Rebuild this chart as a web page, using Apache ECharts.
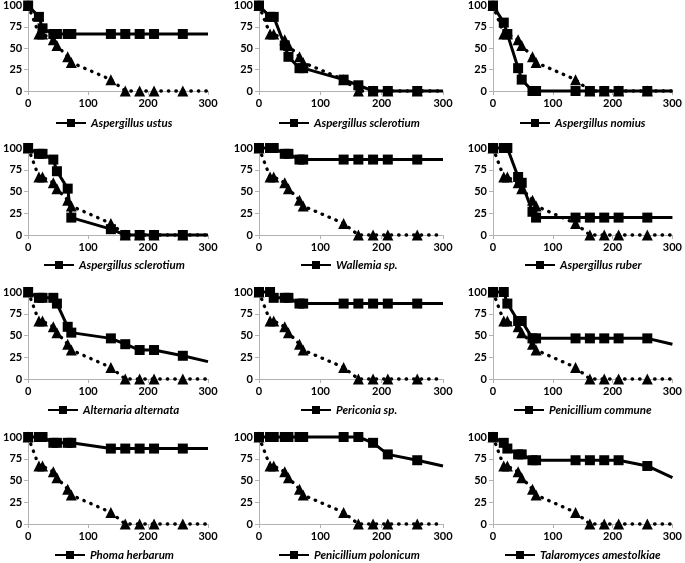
<!DOCTYPE html>
<html>
<head>
<meta charset="utf-8">
<script src="https://cdn.jsdelivr.net/npm/echarts@6/dist/echarts.min.js"></script>
<style>
html,body{margin:0;padding:0;background:#fff;overflow:hidden}
#chart{width:685px;height:563px}
</style>
</head>
<body>
<div id="chart"></div>
<script>
// Time points (x axis)
const xHours = [0, 18, 24, 42, 48, 66, 72, 138, 162, 186, 210, 258, 300];
// Reference (dotted, triangles) – same in every panel
const controlValues = [100, 66.7, 66.7, 60, 53.3, 40, 33.3, 13.3, 0, 0, 0, 0, 0];

const fungusNames = [
  'Aspergillus ustus', 'Aspergillus sclerotium', 'Aspergillus nomius',
  'Aspergillus sclerotium', 'Wallemia sp.', 'Aspergillus ruber',
  'Alternaria alternata', 'Periconia sp.', 'Penicillium commune',
  'Phoma herbarum', 'Penicillium polonicum', 'Talaromyces amestolkiae'
];

const aspergillusUstus      = [100, 86.7, 73.3, 66.7, 66.7, 66.7, 66.7, 66.7, 66.7, 66.7, 66.7, 66.7, 66.7];
const aspergillusSclerotium1 = [100, 86.7, 86.7, 53.3, 40, 26.7, 26.7, 13.3, 6.7, 0, 0, 0, 0];
const aspergillusNomius     = [100, 80, 66.7, 26.7, 13.3, 0, 0, 0, 0, 0, 0, 0, 0];
const aspergillusSclerotium2 = [100, 93.3, 93.3, 86.7, 73.3, 53.3, 20, 6.7, 0, 0, 0, 0, 0];
const wallemiaSp            = [100, 100, 100, 93.3, 93.3, 86.7, 86.7, 86.7, 86.7, 86.7, 86.7, 86.7, 86.7];
const aspergillusRuber      = [100, 100, 100, 66.7, 60, 26.7, 20, 20, 20, 20, 20, 20, 20];
const alternariaAlternata   = [100, 93.3, 93.3, 93.3, 86.7, 60, 53.3, 46.7, 40, 33.3, 33.3, 26.7, 20];
const periconiaSp           = [100, 100, 93.3, 93.3, 93.3, 86.7, 86.7, 86.7, 86.7, 86.7, 86.7, 86.7, 86.7];
const penicilliumCommune    = [100, 100, 86.7, 66.7, 66.7, 46.7, 46.7, 46.7, 46.7, 46.7, 46.7, 46.7, 40];
const phomaHerbarum         = [100, 100, 100, 93.3, 93.3, 93.3, 93.3, 86.7, 86.7, 86.7, 86.7, 86.7, 86.7];
const penicilliumPolonicum  = [100, 100, 100, 100, 100, 100, 100, 100, 100, 93.3, 80, 73.3, 66.7];
const talaromycesAmestolkiae = [100, 93.3, 86.7, 80, 80, 73.3, 73.3, 73.3, 73.3, 73.3, 73.3, 66.7, 53.3];

const fungusValues = [
  aspergillusUstus, aspergillusSclerotium1, aspergillusNomius,
  aspergillusSclerotium2, wallemiaSp, aspergillusRuber,
  alternariaAlternata, periconiaSp, penicilliumCommune,
  phomaHerbarum, penicilliumPolonicum, talaromycesAmestolkiae
];

const yTicks = [0, 25, 50, 75, 100];
const xTicks = [0, 100, 200, 300];

// layout
const colLeft = [24, 259, 493];
const rowTop = [4, 148, 292, 437];
const plotW = 184, plotH = 87;
const legendCenterY = [124, 266, 411, 556];

const FONT = 'Lato, "Open Sans", sans-serif';
const legendFont = 'italic bold 11.5px Lato';
const cv = document.createElement('canvas').getContext('2d');
cv.font = legendFont;

function toData(vals) {
  return xHours.map((x, i) => {
    const d = { value: [x, vals[i]] };
    if (i === xHours.length - 1) d.symbol = 'none';
    return d;
  });
}

const grids = [], xAxes = [], yAxes = [], series = [], legends = [];
const itemW = 30;
fungusNames.forEach((name, k) => {
  const r = Math.floor(k / 3), c = k % 3;
  grids.push({ left: colLeft[c], top: rowTop[r], width: plotW, height: plotH });
  xAxes.push({
    gridIndex: k, type: 'value', min: xTicks[0], max: xTicks[xTicks.length - 1], interval: 100,
    axisLine: { show: true, lineStyle: { color: '#b3b3b3', width: 1 } },
    axisTick: { show: true, length: 4, lineStyle: { color: '#b3b3b3' } },
    splitLine: { show: false },
    axisLabel: { color: '#000', fontWeight: 'bold', fontSize: 11, fontFamily: FONT, margin: 7 }
  });
  yAxes.push({
    gridIndex: k, type: 'value', min: yTicks[0], max: yTicks[yTicks.length - 1], interval: 25,
    axisLine: { show: true, lineStyle: { color: '#b3b3b3', width: 1 } },
    axisTick: { show: true, length: 4, lineStyle: { color: '#b3b3b3' } },
    splitLine: { show: false },
    axisLabel: { color: '#000', fontWeight: 'bold', fontSize: 11, fontFamily: FONT, margin: 6 }
  });
  series.push({
    name: 'Control', type: 'line', xAxisIndex: k, yAxisIndex: k,
    data: toData(controlValues), symbol: 'triangle', symbolSize: 11, clip: false,
    itemStyle: { color: '#000' },
    lineStyle: { color: '#000', width: 3.3, type: [0.5, 7], cap: 'round' },
    animation: false, z: 2
  });
  series.push({
    name: name, type: 'line', xAxisIndex: k, yAxisIndex: k,
    data: toData(fungusValues[k]), symbol: 'rect', symbolSize: 10, clip: false,
    itemStyle: { color: '#000' },
    lineStyle: { color: '#000', width: 3 },
    animation: false, z: 3
  });
  const tw = cv.measureText(name).width;
  const center = colLeft[c] + plotW / 2 - 3;
  legends.push({
    data: [name],
    left: Math.round(center - (itemW + 5 + tw) / 2),
    top: legendCenterY[r] - 7,
    padding: 0,
    itemWidth: itemW, itemHeight: 10,
    selectedMode: false,
    textStyle: { fontFamily: 'Lato', fontStyle: 'italic', fontWeight: 'bold', fontSize: 11.5, color: '#000' }
  });
});

const chart = echarts.init(document.getElementById('chart'), null, { renderer: 'canvas' });
chart.setOption({
  backgroundColor: '#fff',
  animation: false,
  grid: grids, xAxis: xAxes, yAxis: yAxes, series: series, legend: legends
});
</script>
</body>
</html>
